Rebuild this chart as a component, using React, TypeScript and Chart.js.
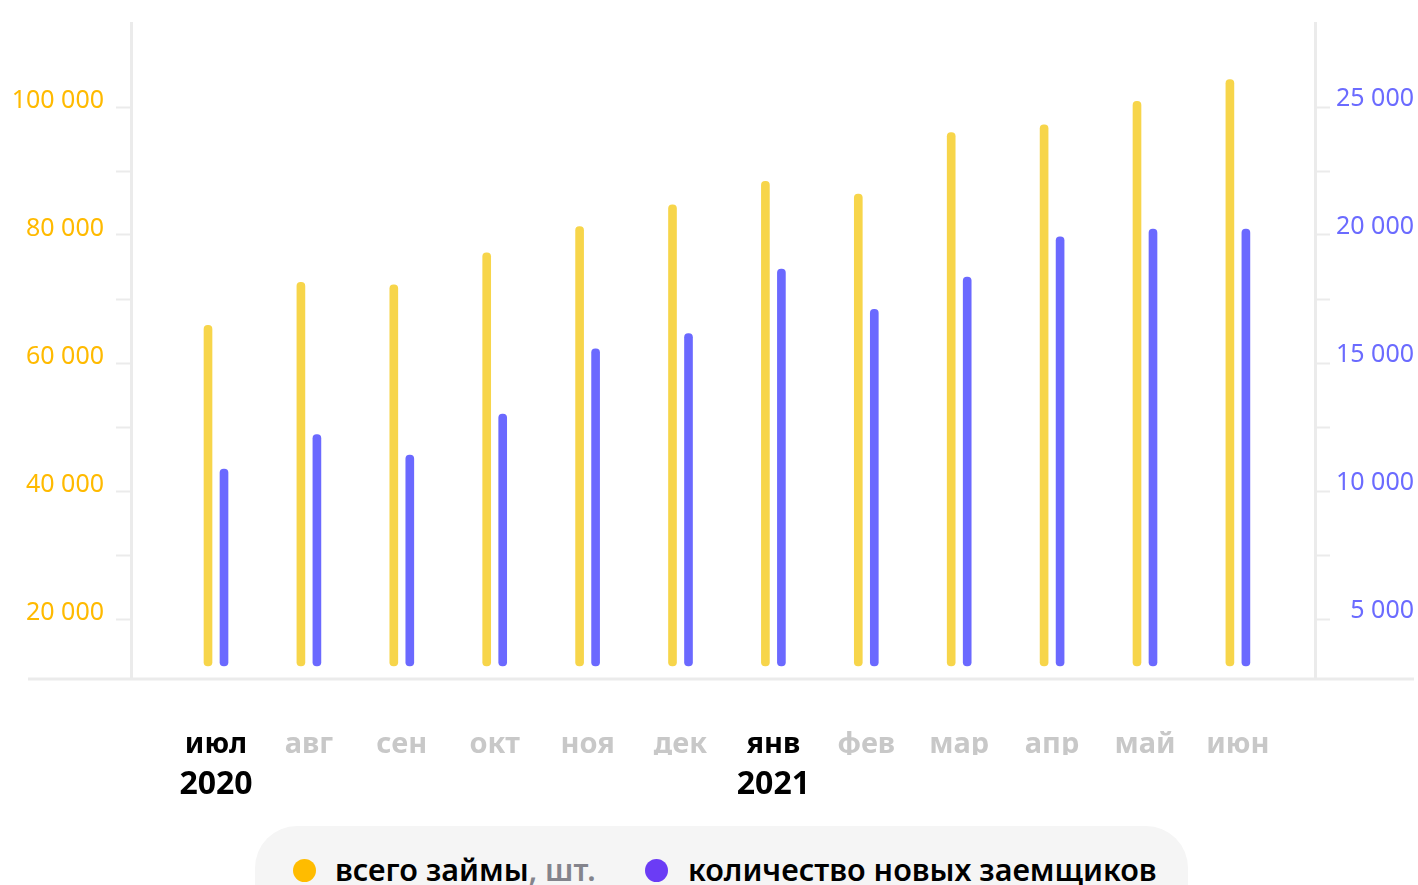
import React, { useEffect, useRef } from "react";
import { Chart, registerables } from "chart.js";

Chart.register(...registerables);

const months = ["июл", "авг", "сен", "окт", "ноя", "дек", "янв", "фев", "мар", "апр", "май", "июн"];
const years = ["2020", "", "", "", "", "", "2021", "", "", "", "", ""];
const totalLoans = [65900, 72600, 72200, 77200, 81300, 84700, 88400, 86400, 96000, 97200, 100900, 104300];
const newBorrowers = [10860, 12200, 11400, 13000, 15550, 16150, 18670, 17100, 18360, 19930, 20230, 20230];
const leftTicks = [20000, 30000, 40000, 50000, 60000, 70000, 80000, 90000, 100000];
const rightTicks = [5000, 7500, 10000, 12500, 15000, 17500, 20000, 22500, 25000];

const FONT = "'Noto Sans', sans-serif";
const GRID = "#ebebeb";

const fmt = (v: number) => String(v).replace(/\B(?=(\d{3})+(?!\d))/g, " ");

const bottomLine = {
  id: "bottomLine",
  beforeDatasetsDraw(chart: any) {
    const { ctx, chartArea } = chart;
    ctx.save();
    ctx.strokeStyle = GRID;
    ctx.lineWidth = 3;
    ctx.beginPath();
    ctx.moveTo(28, chartArea.bottom);
    ctx.lineTo(1414, chartArea.bottom);
    ctx.stroke();
    ctx.restore();
  },
};

const noPad = (s: any) => {
  s.paddingTop = 0;
  s.paddingBottom = 0;
  s.paddingLeft = 0;
  s.paddingRight = 0;
};

export default function App() {
  const ref = useRef<HTMLCanvasElement>(null);
  useEffect(() => {
    if (!ref.current) return;
    const xCommon = {
      type: "linear",
      min: -0.915,
      max: 11.83,
      offset: false,
      grid: { display: false, drawTicks: false },
      border: { display: false },
      afterBuildTicks: (s: any) => {
        s.ticks = months.map((_, i) => ({ value: i }));
      },
    };
    const chart = new Chart(ref.current, {
      type: "bar",
      data: {
        datasets: [
          {
            label: "всего займы, шт.",
            data: totalLoans.map((v, i) => ({ x: i, y: v })),
            backgroundColor: "#F7D54A",
            xAxisID: "x",
            yAxisID: "yL",
            base: 12656,
            barThickness: 16,
            maxBarThickness: 8,
            borderRadius: 4,
            borderSkipped: false,
          } as any,
          {
            label: "количество новых заемщиков",
            data: newBorrowers.map((v, i) => ({ x: i, y: v })),
            backgroundColor: "#6B69FF",
            xAxisID: "x",
            yAxisID: "yR",
            base: 3164,
            barThickness: 16,
            maxBarThickness: 8,
            borderRadius: 4,
            borderSkipped: false,
          } as any,
        ],
      },
      options: {
        animation: false,
        responsive: false,
        layout: { padding: { top: 23, left: 0, right: 4, bottom: 0 } },
        plugins: { legend: { display: false }, tooltip: { enabled: false } },
        scales: {
          x: {
            ...xCommon,
            position: "bottom",
            weight: 0,
            afterFit: (s: any) => {
              s.height = 76;
              noPad(s);
            },
            ticks: {
              autoSkip: false,
              maxRotation: 0,
              padding: 48,
              font: { family: FONT, size: 29, weight: "bold", lineHeight: 1.2 },
              color: (c: any) => (years[c.index] ? "#000000" : "#c8c8c8"),
              callback: (v: any) => months[Math.round(Number(v))],
            },
          },
          x2: {
            ...xCommon,
            position: "bottom",
            weight: 1,
            afterFit: (s: any) => {
              s.height = 130;
              noPad(s);
            },
            ticks: {
              autoSkip: false,
              maxRotation: 0,
              padding: 11,
              font: { family: FONT, size: 32, weight: "bold", lineHeight: 1.2 },
              color: "#000000",
              callback: (v: any) => years[Math.round(Number(v))],
            },
          },
          yL: {
            type: "linear",
            position: "left",
            min: 10625,
            max: 113125,
            grid: { drawOnChartArea: false, tickLength: 15, tickWidth: 2, tickColor: GRID, color: GRID },
            border: { display: true, color: GRID, width: 3 },
            afterBuildTicks: (s: any) => {
              s.ticks = leftTicks.map((v) => ({ value: v }));
            },
            afterFit: (s: any) => {
              s.width = 131;
              noPad(s);
            },
            ticks: {
              padding: 12,
              labelOffset: -6,
              color: "#FFBA00",
              font: { family: FONT, size: 25 },
              callback: (v: any) => (Number(v) % 20000 === 0 ? fmt(Number(v)) : ""),
            },
          },
          yR: {
            type: "linear",
            position: "right",
            min: 2656.25,
            max: 28281.25,
            grid: { drawOnChartArea: false, tickLength: 15, tickWidth: 2, tickColor: GRID, color: GRID },
            border: { display: true, color: GRID, width: 3 },
            afterBuildTicks: (s: any) => {
              s.ticks = rightTicks.map((v) => ({ value: v }));
            },
            afterFit: (s: any) => {
              s.width = 99;
              noPad(s);
            },
            ticks: {
              padding: 5,
              labelOffset: -8,
              crossAlign: "far",
              color: "#6B6BFF",
              font: { family: FONT, size: 25 },
              callback: (v: any) => (Number(v) % 5000 === 0 ? fmt(Number(v)) : ""),
            },
          },
        },
      },
      plugins: [bottomLine],
    } as any);
    return () => chart.destroy();
  }, []);

  return (
    <div style={{ position: "absolute", left: 0, top: 0, width: 1418, height: 885, overflow: "hidden", background: "#fff" }}>
      <canvas ref={ref} width={1418} height={885} style={{ display: "block", width: 1418, height: 885 }} />
      <div
        style={{
          position: "absolute",
          left: 255,
          top: 826,
          width: 933,
          height: 120,
          borderRadius: 42,
          background: "#f5f5f5",
          fontFamily: FONT,
          fontWeight: 600,
          fontSize: 30.5,
          color: "#000",
        }}
      >
        <div style={{ position: "absolute", left: 38, top: 33, width: 23, height: 23, borderRadius: "50%", background: "#FFBC00" }} />
        <div style={{ position: "absolute", left: 80, top: 43, transform: "translateY(-50%)", whiteSpace: "nowrap", lineHeight: 1 }}>
          всего займы<span style={{ color: "#84848c" }}>, шт.</span>
        </div>
        <div style={{ position: "absolute", left: 390, top: 33, width: 23, height: 23, borderRadius: "50%", background: "#6B3CF5" }} />
        <div style={{ position: "absolute", left: 433, top: 43, transform: "translateY(-50%)", whiteSpace: "nowrap", lineHeight: 1 }}>
          количество новых заемщиков
        </div>
      </div>
    </div>
  );
}
